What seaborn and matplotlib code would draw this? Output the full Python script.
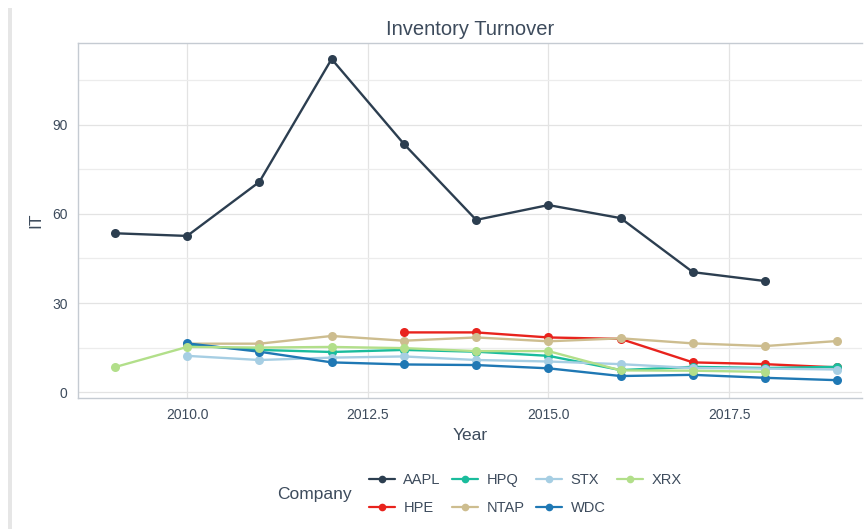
import pandas as pd
import numpy as np
import seaborn as sns
import matplotlib.pyplot as plt
from matplotlib.patches import Rectangle

# Values
aapl_years = [2009, 2010, 2011, 2012, 2013, 2014, 2015, 2016, 2017, 2018]
aapl_it = [53.5, 52.6, 70.8, 112.2, 83.6, 58.0, 63.0, 58.6, 40.4, 37.4]

hpe_years = [2013, 2014, 2015, 2016, 2017, 2018, 2019]
hpe_it = [20.1, 20.1, 18.4, 17.9, 10.0, 9.4, 8.3]

hpq_years = [2010, 2011, 2012, 2013, 2014, 2015, 2016, 2017, 2018, 2019]
hpq_it = [15.8, 14.2, 13.5, 14.2, 13.6, 12.2, 7.4, 8.5, 8.1, 8.5]

ntap_years = [2010, 2011, 2012, 2013, 2014, 2015, 2016, 2017, 2018, 2019]
ntap_it = [16.3, 16.3, 18.9, 17.3, 18.4, 17.1, 18.1, 16.4, 15.5, 17.2]

stx_years = [2010, 2011, 2012, 2013, 2014, 2015, 2016, 2017, 2018, 2019]
stx_it = [12.2, 10.8, 11.6, 12.0, 10.8, 10.3, 9.4, 8.1, 7.9, 7.6]

wdc_years = [2010, 2011, 2012, 2013, 2014, 2015, 2016, 2017, 2018, 2019]
wdc_it = [16.4, 13.6, 10.0, 9.3, 9.1, 8.0, 5.4, 5.8, 4.8, 4.0]

xrx_years = [2009, 2010, 2011, 2012, 2013, 2014, 2015, 2016, 2017, 2018]
xrx_it = [8.4, 15.2, 15.0, 15.2, 14.8, 13.8, 13.8, 7.3, 7.2, 6.8]

companies = ['AAPL', 'HPE', 'HPQ', 'NTAP', 'STX', 'WDC', 'XRX']
colors = ['#2c3e50', '#e8231d', '#1abc9c', '#cdbd8f', '#a6cee3', '#1f78b4', '#b2df8a']

series = {
    'AAPL': (aapl_years, aapl_it),
    'HPE': (hpe_years, hpe_it),
    'HPQ': (hpq_years, hpq_it),
    'NTAP': (ntap_years, ntap_it),
    'STX': (stx_years, stx_it),
    'WDC': (wdc_years, wdc_it),
    'XRX': (xrx_years, xrx_it),
}
df = pd.concat([pd.DataFrame({'Year': y, 'IT': v, 'Company': c})
                for c, (y, v) in series.items()], ignore_index=True)

sns.set_style('white')
plt.rcParams['font.family'] = ['Liberation Sans', 'DejaVu Sans']
text_col = '#3d4b5c'
grid_col = '#e3e3e3'

fig = plt.figure(figsize=(8.64, 5.29), dpi=100)
ax = fig.add_axes([78 / 864, 1 - 398 / 529, 784 / 864, 355 / 529])

# grey strip at the left edge
fig.add_artist(Rectangle((8 / 864, 0), 4 / 864, 1 - 8 / 529, transform=fig.transFigure,
                         color='#e6e6e6', lw=0))

sns.lineplot(data=df, x='Year', y='IT', hue='Company', hue_order=companies,
             palette=dict(zip(companies, colors)), marker='o', markersize=6.5,
             markeredgewidth=0, linewidth=1.7, ax=ax, legend=False)

ax.set_xlim(2008.49, 2019.34)
ax.set_ylim(-2.0, 117.6)
ax.set_xticks([2010.0, 2012.5, 2015.0, 2017.5])
ax.set_xticklabels(['2010.0', '2012.5', '2015.0', '2017.5'])
ax.set_yticks([0, 30, 60, 90])
ax.set_yticks([15, 45, 75, 105], minor=True)
ax.grid(True, which='major', color=grid_col, lw=0.9)
ax.grid(True, which='minor', axis='y', color='#ececec', lw=0.9)
ax.set_axisbelow(True)
for s in ax.spines.values():
    s.set_color('#c5cbd2')
    s.set_linewidth(1.0)
ax.spines['right'].set_visible(False)
ax.tick_params(axis='both', which='both', length=4, color=grid_col,
               labelcolor=text_col, labelsize=10)
ax.tick_params(axis='y', which='minor', length=0)

ax.set_title('Inventory Turnover', fontsize=14.5, color=text_col, pad=6)
ax.set_xlabel('Year', fontsize=12.5, color=text_col, labelpad=4)
ax.set_ylabel('IT', fontsize=12.5, color=text_col, labelpad=6)

handles = [plt.Line2D([], [], color=c, marker='o', markersize=5.5, markeredgewidth=0, lw=1.6)
           for c in colors]
leg = fig.legend(handles, companies, ncol=4, loc='center left',
                 bbox_to_anchor=(356 / 864, 1 - 494 / 529), frameon=False,
                 fontsize=10.5, handlelength=1.75, columnspacing=0.8,
                 labelspacing=1.0, handletextpad=0.6)
for t in leg.get_texts():
    t.set_color(text_col)
fig.text(277 / 864, 1 - 494 / 529, 'Company', fontsize=12.5, color=text_col,
         va='center', ha='left')

fig.savefig('out.png', dpi=100)
